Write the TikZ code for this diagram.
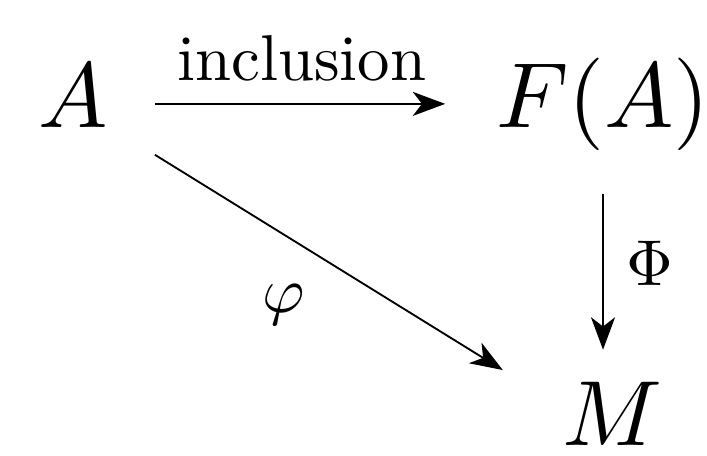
\documentclass[tikz,border=0pt]{standalone}
\usetikzlibrary{arrows.meta}
\newcommand{\lbltext}[1]{\scalebox{0.7}{#1}}
\begin{document}
\begin{tikzpicture}[x=0.108pt, y=0.108pt,
  obj/.style={inner sep=0pt, text height=7.5pt, text depth=2.5pt, anchor=base},
  map/.style={line width=0.2pt, -{Stealth[length=3.5pt, width=2.6pt, inset=1pt]}},
  lbl/.style={inner sep=0pt}]
\useasboundingbox (0,0) rectangle (707,-455);

% Objects
\node[obj] (A) at (73,-127) {$A$};
\node[obj] (FA) at (603,-127) {$F(A)$};
\node[obj] (M) at (612,-445) {$M$};

% Maps
\draw[map, shorten <=4.9pt, shorten >=5.3pt] (A) -- (FA)
  node[lbl, midway, above=2.3pt] {\lbltext{inclusion}};
\draw[map, shorten <=4.5pt, shorten >=2.6pt] (FA.south) -- (FA.south |- M.north)
  node[lbl, midway, xshift=5.1pt] {\lbltext{$\Phi$}};
\draw[map] ([xshift=4.9pt, yshift=-0.3pt]A.south east) -- ([xshift=-6.2pt, yshift=0.4pt]M.north west)
  node[lbl, pos=0.46, xshift=-3.4pt, yshift=-5.5pt] {\lbltext{$\varphi$}};

\end{tikzpicture}
\end{document}
